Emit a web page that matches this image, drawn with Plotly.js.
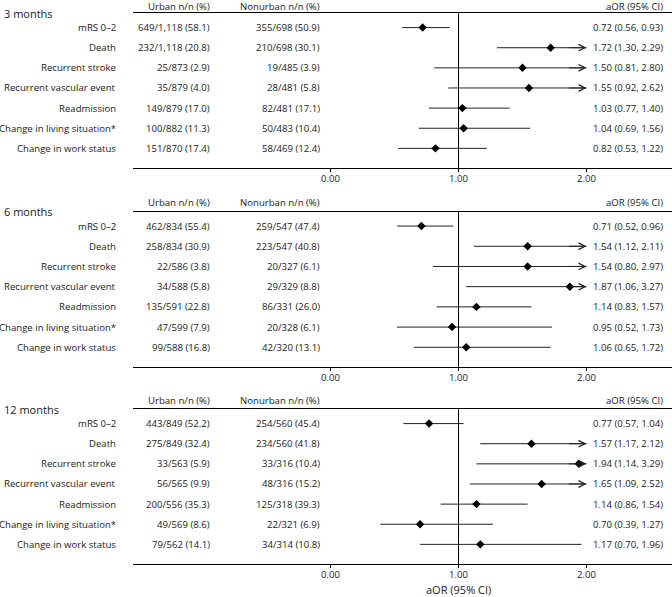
<!DOCTYPE html>
<html>
<head>
<meta charset="utf-8">
<script src="https://cdn.plot.ly/plotly-3.0.1.min.js"></script>
<style>html,body{margin:0;padding:0;background:#fff;}#chart{width:672px;height:597px;}</style>
</head>
<body>
<div id="chart"></div>
<script>
// ---------- data ----------
var outcomes = ["mRS 0\u20132", "Death", "Recurrent stroke", "Recurrent vascular event", "Readmission", "Change in living situation*", "Change in work status"];
var panelTitles = ["3 months", "6 months", "12 months"];
var colHeaders = ["Urban n/n (%)", "Nonurban n/n (%)", "aOR (95% CI)"];
var tickVals = [0, 1, 2];

var urban3 = ["649/1,118 (58.1)", "232/1,118 (20.8)", "25/873 (2.9)", "35/879 (4.0)", "149/879 (17.0)", "100/882 (11.3)", "151/870 (17.4)"];
var nonurban3 = ["355/698 (50.9)", "210/698 (30.1)", "19/485 (3.9)", "28/481 (5.8)", "82/481 (17.1)", "50/483 (10.4)", "58/469 (12.4)"];
var aor3 = [0.72, 1.72, 1.50, 1.55, 1.03, 1.04, 0.82];
var lo3 = [0.56, 1.30, 0.81, 0.92, 0.77, 0.69, 0.53];
var hi3 = [0.93, 2.29, 2.80, 2.62, 1.40, 1.56, 1.22];

var urban6 = ["462/834 (55.4)", "258/834 (30.9)", "22/586 (3.8)", "34/588 (5.8)", "135/591 (22.8)", "47/599 (7.9)", "99/588 (16.8)"];
var nonurban6 = ["259/547 (47.4)", "223/547 (40.8)", "20/327 (6.1)", "29/329 (8.8)", "86/331 (26.0)", "20/328 (6.1)", "42/320 (13.1)"];
var aor6 = [0.71, 1.54, 1.54, 1.87, 1.14, 0.95, 1.06];
var lo6 = [0.52, 1.12, 0.80, 1.06, 0.83, 0.52, 0.65];
var hi6 = [0.96, 2.11, 2.97, 3.27, 1.57, 1.73, 1.72];

var urban12 = ["443/849 (52.2)", "275/849 (32.4)", "33/563 (5.9)", "56/565 (9.9)", "200/556 (35.3)", "49/569 (8.6)", "79/562 (14.1)"];
var nonurban12 = ["254/560 (45.4)", "234/560 (41.8)", "33/316 (10.4)", "48/316 (15.2)", "125/318 (39.3)", "22/321 (6.9)", "34/314 (10.8)"];
var aor12 = [0.77, 1.57, 1.94, 1.65, 1.14, 0.70, 1.17];
var lo12 = [0.57, 1.17, 1.14, 1.09, 0.86, 0.39, 0.70];
var hi12 = [1.04, 2.12, 3.29, 2.52, 1.54, 1.27, 1.96];

// ---------- build ----------
var panels = [
  {urban: urban3, nonurban: nonurban3, aor: aor3, lo: lo3, hi: hi3},
  {urban: urban6, nonurban: nonurban6, aor: aor6, lo: lo6, hi: hi6},
  {urban: urban12, nonurban: nonurban12, aor: aor12, lo: lo12, hi: hi12}
];

var FONT = "Open Sans, Noto Sans, sans-serif";
var TXT = "#1a1a1a";
var FS = 9.6;
var CLIP = 2;               // display limit of the axis (arrows beyond)
var W = 672, H = 597;
var xDomain = [133 / W, 1];
var xRange = [-1.543, 2.668];
var yDomains = [
  [1 - 168.3 / H, 1 - 13.3 / H],
  [1 - 367.3 / H, 1 - 211.7 / H],
  [1 - 564.3 / H, 1 - 409.3 / H]
];
var headerShift = [7.3, 9.4, 9.3];
var colX = {label: 118.3 / W, urban: 212.3 / W, nonurban: 321.7 / W, aor: 664.5 / W};

var traces = [];
var annotations = [];
var shapes = [];
var layout = {
  width: W, height: H,
  margin: {l: 0, r: 0, t: 0, b: 0},
  paper_bgcolor: "#fff", plot_bgcolor: "#fff",
  showlegend: false,
  font: {family: FONT, size: FS, color: TXT}
};

var rows = outcomes.map(function (_, i) { return i + 1; });

panels.forEach(function (p, k) {
  var sfx = k === 0 ? "" : String(k + 1);
  var xa = "x" + sfx, ya = "y" + sfx;

  layout["xaxis" + sfx] = {
    domain: xDomain, range: xRange, anchor: ya,
    tickvals: tickVals, tickformat: ".2f",
    showline: true, mirror: true, linecolor: "#000", linewidth: 1,
    ticks: "outside", ticklen: 3, tickwidth: 1, tickcolor: "#000",
    ticklabelstandoff: -2,
    showgrid: false, zeroline: false,
    tickfont: {family: FONT, size: FS, color: TXT},
    fixedrange: true
  };
  layout["yaxis" + sfx] = {
    domain: yDomains[k], range: [7.99, 0.29], anchor: xa,
    showticklabels: false, showgrid: false, zeroline: false, showline: false, ticks: "",
    fixedrange: true
  };

  // CI lines
  var lx = [], ly = [];
  p.lo.forEach(function (lo, i) {
    lx.push(lo, Math.min(p.hi[i], CLIP), null);
    ly.push(rows[i], rows[i], null);
  });
  traces.push({
    type: "scatter", mode: "lines", x: lx, y: ly, xaxis: xa, yaxis: ya,
    line: {color: "#222", width: 1}, hoverinfo: "skip"
  });
  // point estimates
  traces.push({
    type: "scatter", mode: "markers", x: p.aor, y: rows, xaxis: xa, yaxis: ya,
    marker: {symbol: "diamond", size: 6.5, color: "#000", line: {width: 0}},
    cliponaxis: false
  });

  // arrows for truncated CIs
  p.hi.forEach(function (hi, i) {
    if (hi > CLIP) {
      annotations.push({
        xref: xa, yref: ya, x: CLIP, y: rows[i],
        axref: xa, ayref: ya, ax: CLIP - 0.15, ay: rows[i],
        text: "", showarrow: true, arrowhead: 5, arrowsize: 1.3, arrowwidth: 1, arrowcolor: "#222"
      });
    }
  });

  // reference line at 1
  shapes.push({
    type: "line", xref: xa, yref: ya + " domain", x0: 1, x1: 1, y0: 0, y1: 1,
    line: {color: "#000", width: 1}
  });

  // panel title
  annotations.push({
    xref: "paper", yref: ya + " domain", x: 2 / W, y: 1, xanchor: "left", yanchor: "middle",
    text: panelTitles[k], showarrow: false, font: {family: FONT, size: 11, color: TXT}
  });
  // column headers
  [colX.urban, colX.nonurban, colX.aor].forEach(function (cx, j) {
    annotations.push({
      xref: "paper", yref: ya + " domain", x: cx, y: 1, xanchor: "right", yanchor: "middle",
      yshift: headerShift[k],
      text: colHeaders[j], showarrow: false, font: {family: FONT, size: FS, color: TXT}
    });
  });
  // row text
  outcomes.forEach(function (name, i) {
    var y = rows[i];
    var txts = [
      [colX.label, name],
      [colX.urban, p.urban[i]],
      [colX.nonurban, p.nonurban[i]],
      [colX.aor, p.aor[i].toFixed(2) + " (" + p.lo[i].toFixed(2) + ", " + p.hi[i].toFixed(2) + ")"]
    ];
    txts.forEach(function (t) {
      annotations.push({
        xref: "paper", yref: ya, x: t[0], y: y, xanchor: "right", yanchor: "middle",
        text: t[1], showarrow: false, font: {family: FONT, size: FS, color: TXT}
      });
    });
  });
});

// x axis title under the last panel, centred on 1.00
annotations.push({
  xref: "x3", yref: "paper", x: 1, y: 1 - 589.5 / H, xanchor: "center", yanchor: "middle",
  borderpad: 0,
  text: "aOR (95% CI)", showarrow: false, font: {family: FONT, size: 11, color: TXT}
});

layout.annotations = annotations;
layout.shapes = shapes;

Plotly.newPlot("chart", traces, layout, {displayModeBar: false, staticPlot: true});
</script>
</body>
</html>
